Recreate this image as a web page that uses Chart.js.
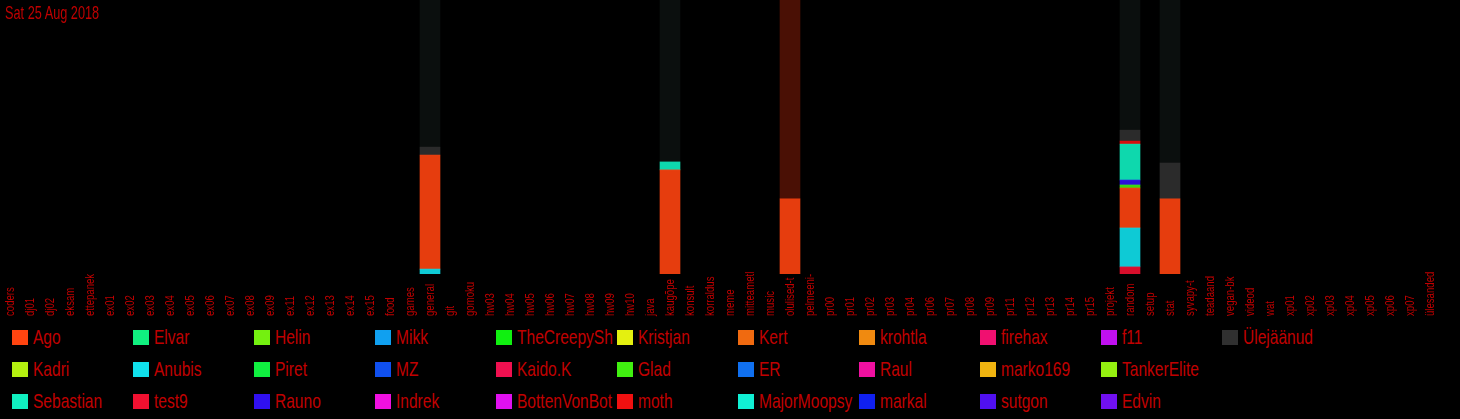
<!DOCTYPE html>
<html>
<head>
<meta charset="utf-8">
<script src="https://cdn.jsdelivr.net/npm/chart.js@4/dist/chart.umd.min.js"></script>
<style>
  html, body { margin: 0; padding: 0; background: #000; }
  body { width: 1460px; height: 419px; overflow: hidden; position: relative; font-family: "Liberation Sans", Arial, sans-serif; }
  #wrap { position: absolute; left: 0; top: 0; width: 1460px; height: 319px; }
  #title { position: absolute; left: 5px; top: 2px; color: #c00000; font-size: 19px; line-height: 22px; transform: scaleX(0.67); transform-origin: 0 0; white-space: nowrap; z-index: 2; }
  #legend { position: absolute; left: 12px; top: 321px; display: grid; grid-template-rows: repeat(3, 32px); grid-auto-flow: column; grid-auto-columns: 121px; }
  .item { position: relative; height: 32px; width: 121px; white-space: nowrap; }
  .box { position: absolute; left: 0; top: 9px; width: 16px; height: 15px; }
  .lbl { position: absolute; left: 21px; top: 3px; color: #c00000; font-size: 21px; line-height: 26px; transform: scaleX(0.74); transform-origin: 0 50%; }
</style>
</head>
<body>
<div id="wrap"><canvas id="c" width="1460" height="319"></canvas></div>
<div id="title">Sat 25 Aug 2018</div>
<div id="legend"></div>
<script>
const categories = ["coders","dj01","dj02","eksam","ettepanek","ex01","ex02","ex03","ex04","ex05","ex06","ex07","ex08","ex09","ex11","ex12","ex13","ex14","ex15","food","games","general","git","gomoku","hw03","hw04","hw05","hw06","hw07","hw08","hw09","hw10","java","kaugõpe","konsult","korraldus","meme","mitteametl","music","olulised-t","pelmeeni-","pr00","pr01","pr02","pr03","pr04","pr06","pr07","pr08","pr09","pr11","pr12","pr13","pr14","pr15","projekt","random","setup","stat","syvapy-t","teadaand","vegan-bk","videod","wat","xp01","xp02","xp03","xp04","xp05","xp06","xp07","ülesanded"];

// legend order (column-major, as shown)
const users = ["Ago","Kadri","Sebastian","Elvar","Anubis","test9","Helin","Piret","Rauno","Mikk","MZ","Indrek","TheCreepySh","Kaido.K","BottenVonBot","Kristjan","Glad","moth","Kert","ER","MajorMoopsy","krohtla","Raul","markal","firehax","marko169","sutgon","f11","TankerElite","Edvin","Ülejäänud"];
const userColors = ["#ff4410","#b4f010","#10f0c0","#10f080","#10e0ec","#f01030","#74f010","#10f040","#3010f0","#10a0f0","#1050f0","#f010e0","#10f010","#f01050","#e010f0","#e4f010","#40f010","#f01010","#f06a10","#1070f0","#10f0d4","#f08a10","#f010a0","#1020f0","#f01070","#f0b410","#5010f0","#c010f0","#94f010","#7010f0","#303030"];

// per-channel values (keys = category index); only non-zero channels listed
const valTest9     = {56: 2.6};
const valAnubis    = {21: 1.8, 56: 14.2};
const valAgo       = {21: 41.6, 33: 38.0, 39: 27.4, 56: 14.6, 58: 27.4};
const valGlad      = {56: 1.1};
const valRauno     = {56: 1.8};
const valSebastian = {33: 2.9, 56: 13.1};
const valMoth      = {56: 1.1};
const valOther     = {21: 2.9, 56: 4.0, 58: 13.1};
// dim background remainder up to the day maximum
const valRest      = {21: 53.6, 33: 59.1, 39: 72.6, 56: 47.5, 58: 59.5};
const restColors   = {21: "#0b0f0e", 33: "#0b0f0e", 39: "#4a1005", 56: "#0b0f0e", 58: "#0b0f0e"};

function series(obj) { return categories.map((_, i) => (obj[i] === undefined ? null : obj[i])); }
function colorOf(name) { return userColors[users.indexOf(name)]; }
function dim(hex, a) {
  const n = parseInt(hex.slice(1), 16);
  return 'rgba(' + ((n >> 16) & 255) + ',' + ((n >> 8) & 255) + ',' + (n & 255) + ',' + a + ')';
}

const stackOrder = [["test9", valTest9],["Anubis", valAnubis],["Ago", valAgo],["Glad", valGlad],["Rauno", valRauno],["Sebastian", valSebastian],["moth", valMoth],["Ülejäänud", valOther]];
const datasets = stackOrder.map(([n, v]) => ({ label: n, data: series(v), backgroundColor: dim(colorOf(n), 0.9), borderWidth: 0 }));
datasets.push({ label: "_rest", data: series(valRest), backgroundColor: categories.map((_, i) => restColors[i] || "#0b0f0e"), borderWidth: 0 });

const tickPlugin = {
  id: 'tickText',
  afterDraw(chart) {
    const ctx = chart.ctx, xs = chart.scales.x;
    ctx.save();
    ctx.fillStyle = "#c00000";
    ctx.font = '12px "Liberation Sans", Arial, sans-serif';
    ctx.textAlign = 'left';
    ctx.textBaseline = 'middle';
    categories.forEach((c, i) => {
      const x = xs.getPixelForValue(i);
      ctx.save();
      ctx.translate(x + 0.5, 316);
      ctx.rotate(-Math.PI / 2);
      ctx.scale(0.8, 1);
      ctx.fillText(c, 0, 0);
      ctx.restore();
    });
    ctx.restore();
  }
};

new Chart(document.getElementById('c'), {
  type: 'bar',
  data: { labels: categories, datasets },
  options: {
    responsive: false, animation: false, maintainAspectRatio: false,
    layout: { padding: { left: 0, right: 20, top: 0, bottom: 45 } },
    plugins: { legend: { display: false }, tooltip: { enabled: false } },
    datasets: { bar: { barPercentage: 1, categoryPercentage: 1, skipNull: true } },
    scales: {
      x: { stacked: true, display: false, grid: { display: false } },
      y: { stacked: true, display: false, min: 0, max: 100, grid: { display: false } }
    }
  },
  plugins: [tickPlugin]
});

const leg = document.getElementById('legend');
users.forEach((u, i) => {
  const d = document.createElement('div'); d.className = 'item';
  d.innerHTML = '<span class="box" style="background:' + userColors[i] + '"></span><span class="lbl"></span>';
  d.querySelector('.lbl').textContent = u;
  leg.appendChild(d);
});
</script>
</body>
</html>
